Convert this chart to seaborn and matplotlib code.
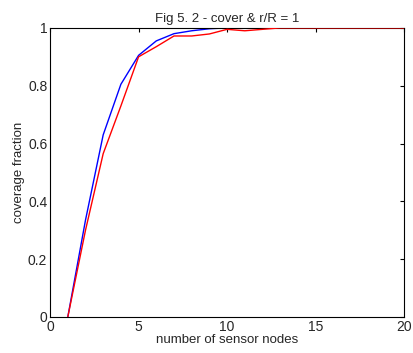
import matplotlib
matplotlib.use('Agg')
import matplotlib.pyplot as plt
import numpy as np
import pandas as pd
import seaborn as sns

# number of sensor nodes
nodes = list(range(1, 21))
# coverage fraction, two runs
cover_blue = [0.0, 0.335, 0.63, 0.805, 0.905, 0.955, 0.98, 0.99, 0.997, 1.0,
              1.0, 1.0, 1.0, 1.0, 1.0, 1.0, 1.0, 1.0, 1.0, 1.0]
cover_red = [0.0, 0.30, 0.565, 0.73, 0.90, 0.935, 0.972, 0.972, 0.979, 0.995,
             0.99, 0.995, 1.0, 1.0, 1.0, 1.0, 1.0, 1.0, 1.0, 1.0]

sns.set_style('white')
plt.rcParams['font.family'] = ['Liberation Sans', 'DejaVu Sans']

df = pd.DataFrame({'nodes': nodes + nodes,
                   'cover': cover_blue + cover_red,
                   'run': ['a'] * len(nodes) + ['b'] * len(nodes)})

fig = plt.figure(figsize=(4.14, 3.53), dpi=100)
ax = fig.add_axes([0.121, 0.102, 0.855, 0.819])
sns.lineplot(data=df, x='nodes', y='cover', hue='run',
             palette=['#0000ff', '#ff0000'], linewidth=1.0,
             legend=False, ax=ax)
# red drawn on top
ax.lines[1].set_zorder(3)

ax.set_xlim(0, 20)
ax.set_ylim(0, 1)
ax.set_xticks([0, 5, 10, 15, 20])
ax.set_yticks([0, 0.2, 0.4, 0.6, 0.8, 1])
ax.set_yticklabels(['0', '0.2', '0.4', '0.6', '0.8', '1'])
ax.tick_params(direction='in', length=3, width=0.8, labelsize=10,
               top=True, right=True, color='black', pad=2)
for s in ax.spines.values():
    s.set_color('black')
    s.set_linewidth(0.8)

ax.set_xlabel('number of sensor nodes', fontsize=9.5, labelpad=0)
ax.set_ylabel('coverage fraction', fontsize=9.5, labelpad=2)
ax.set_title('Fig 5. 2 - cover & r/R = 1', fontsize=9.5, pad=4)

fig.savefig('out.png', dpi=100)
